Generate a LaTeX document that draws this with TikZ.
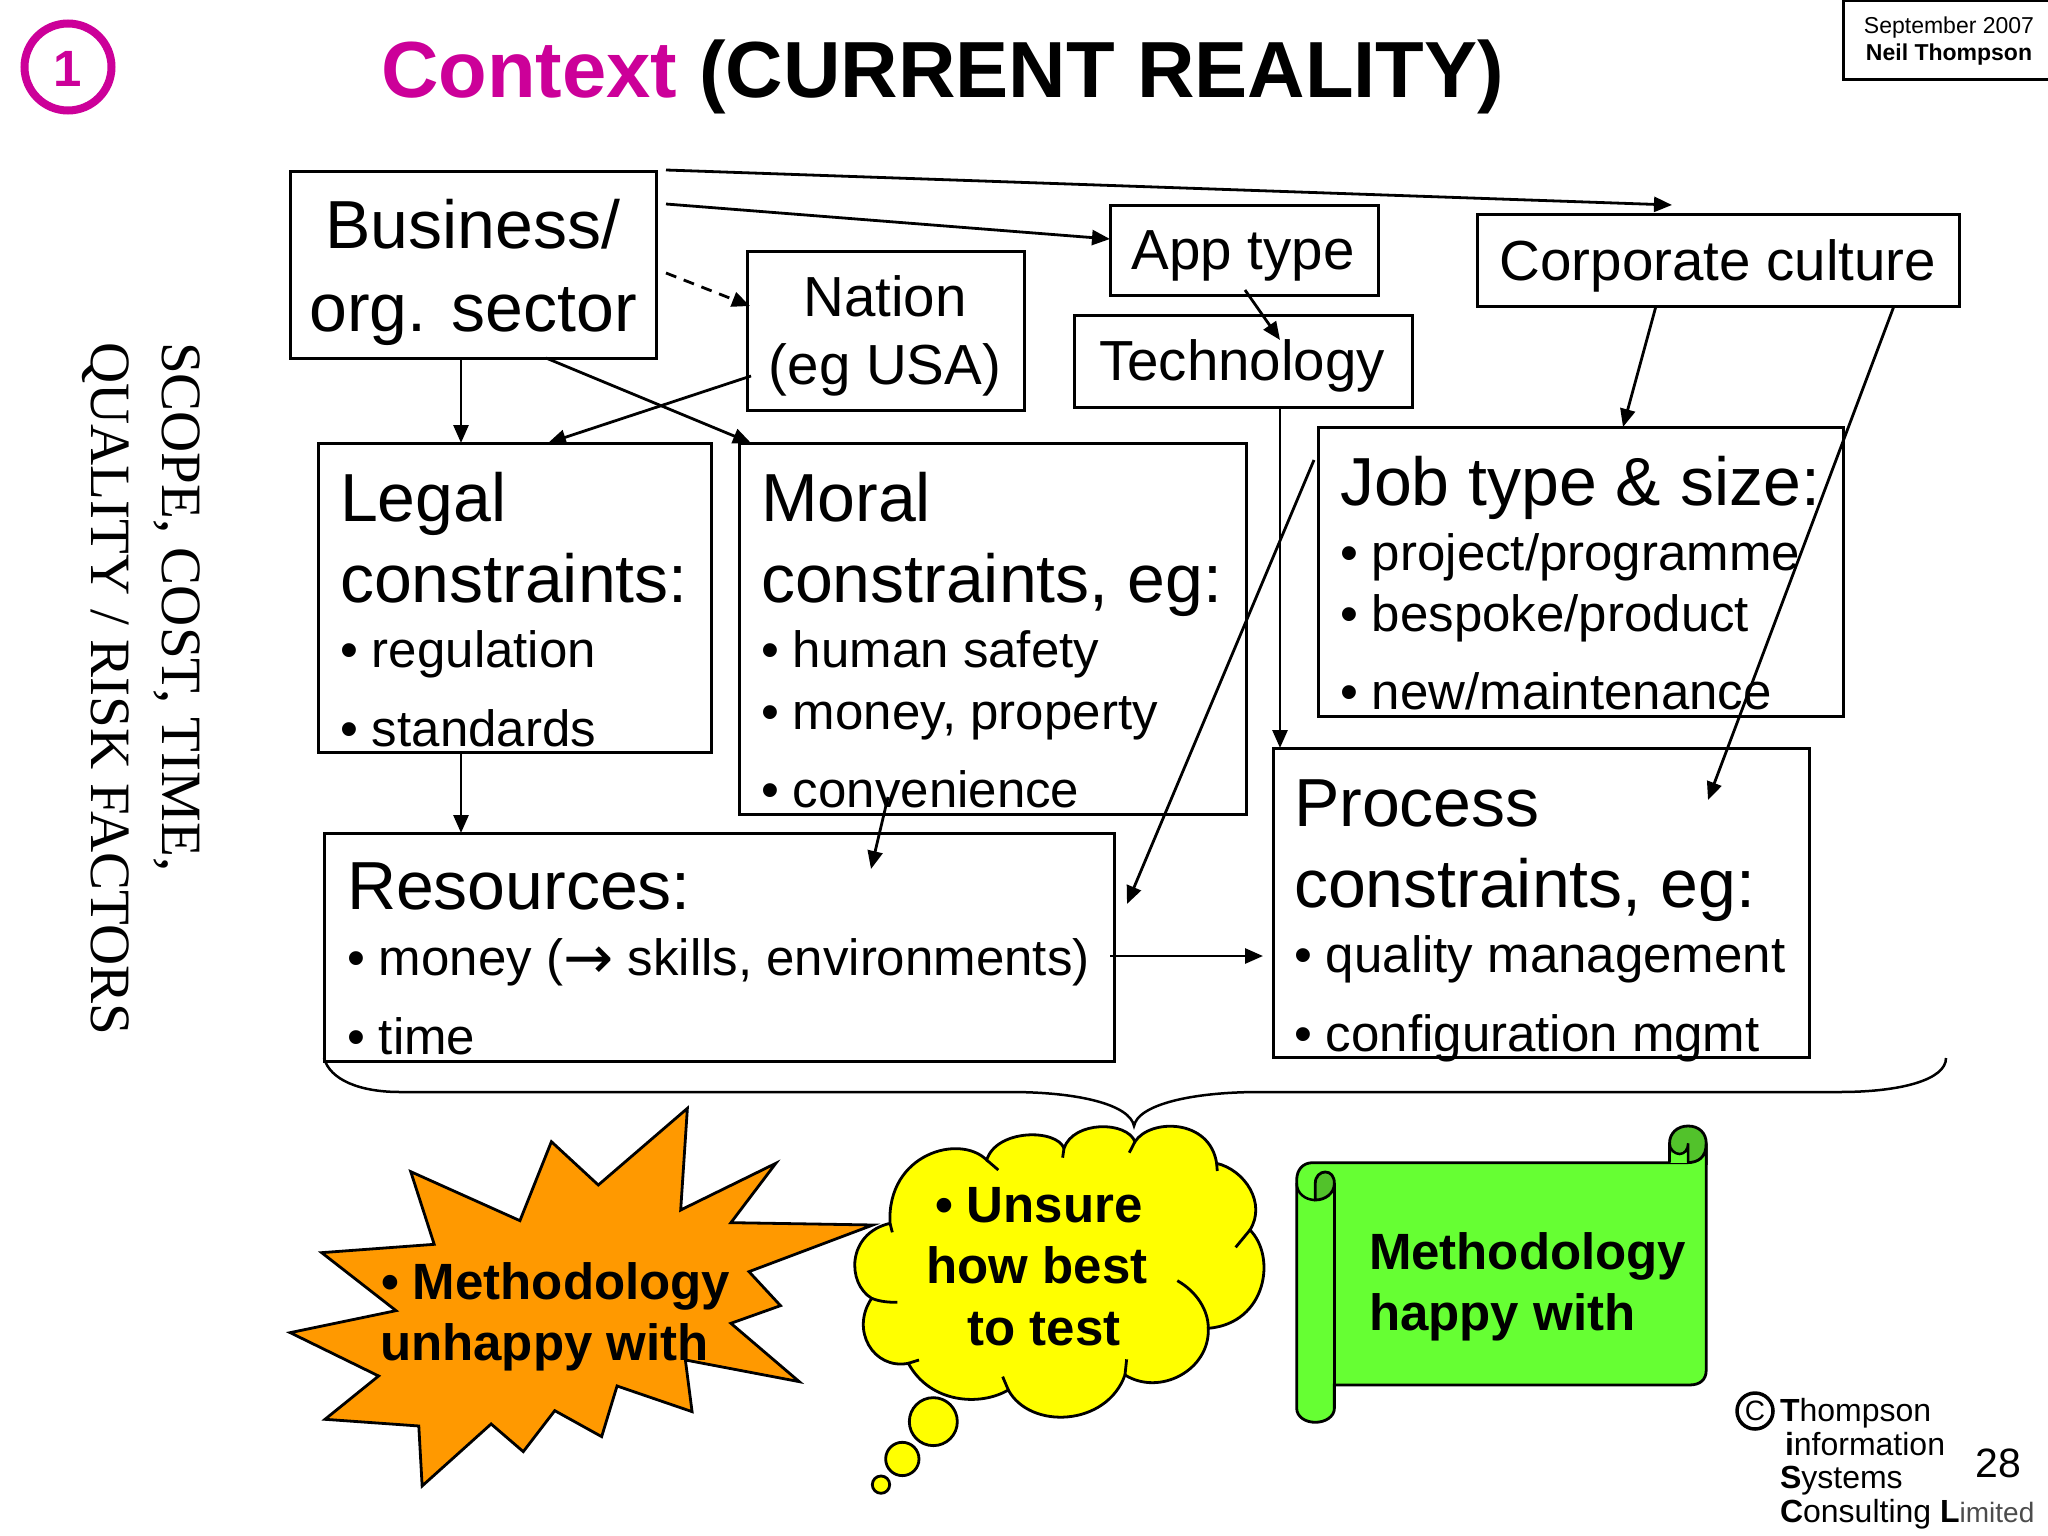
\documentclass[tikz,border=0pt]{standalone}
\usepackage{fontspec}
\setmainfont{Liberation Sans}
\newfontfamily\serifface{Liberation Serif}
\newfontfamily\arrowface{DejaVu Sans}
\usetikzlibrary{arrows.meta}
\newcommand{\fsz}[1]{\fontsize{#1}{#1}\selectfont}
\definecolor{magentaC}{HTML}{CC0099}
\definecolor{orangeC}{HTML}{FF9900}
\definecolor{yellowC}{HTML}{FFFF00}
\definecolor{greenC}{HTML}{66FF33}
\definecolor{greenD}{HTML}{52C22B}
\tikzset{
  box/.style={draw=black,line width=3pt,inner sep=0pt,outer sep=0pt},
  txt/.style={inner sep=0pt,outer sep=0pt,anchor=base west,align=left},
  ctr/.style={inner sep=0pt,outer sep=0pt,anchor=base},
  big/.style={font=\fsz{68}},
  mid/.style={font=\fsz{56.5}},
  small/.style={font=\fsz{51}},
  boldtxt/.style={font=\fsz{51}\bfseries},
  logo/.style={font=\fsz{32}},
  arr/.style={line width=2.8pt,-{Triangle[length=18pt,width=15pt]}},
  shapeline/.style={draw=black,line width=2.8pt,line join=miter},
}
\begin{document}
\begin{tikzpicture}[x=1pt,y=-1pt]
\useasboundingbox (0,0) rectangle (2048,1536);
\fill[white] (0,0) rectangle (2048,1536);

% header
\node[draw=magentaC,line width=8pt,circle,minimum size=87pt,inner sep=0pt] (badge) at (68,67) {};
\node[ctr,text=magentaC,font=\fsz{51}\bfseries] (one) at (68,87) {1};
\node[txt,font=\fsz{79.6}\bfseries] (title) at (381,98) {\textcolor{magentaC}{Context} (CURRENT REALITY)};
\node[box,minimum width=206pt,minimum height=79pt] (datebox) at (1946,40.5) {};
\node[ctr,font=\fsz{23}] (date) at (1949,34) {September 2007};
\node[ctr,font=\fsz{23}\bfseries] (author) at (1949,61) {Neil Thompson};

% side text
\node[txt,rotate=-90,font=\fsz{57}\serifface] (side1) at (162,342) {SCOPE, COST, TIME,};
\node[txt,rotate=-90,font=\fsz{57}\serifface] (side2) at (91,342) {QUALITY / RISK FACTORS};

% boxes
\node[box,minimum width=366pt,minimum height=187pt] (biz) at (473,264.5) {};
\node[box,minimum width=268pt,minimum height=90pt] (app) at (1244,250) {};
\node[box,minimum width=277pt,minimum height=159pt] (nation) at (885.5,330.5) {};
\node[box,minimum width=338pt,minimum height=92pt] (tech) at (1243,361) {};
\node[box,minimum width=482pt,minimum height=92pt] (corp) at (1718,260) {};
\node[box,minimum width=393pt,minimum height=309pt] (legal) at (515,597.5) {};
\node[box,minimum width=507pt,minimum height=371pt] (moral) at (992.5,628.5) {};
\node[box,minimum width=525pt,minimum height=289pt] (job) at (1580.5,571.5) {};
\node[box,minimum width=536pt,minimum height=309pt] (process) at (1541,902.5) {};
\node[box,minimum width=790pt,minimum height=228pt] (res) at (719,947) {};

% box texts
\node[ctr,big] (t1) at (473,248) {Business/};
\node[ctr,big] (t2) at (473,331) {org. sector};
\node[ctr,mid] (t3) at (885,316) {Nation};
\node[ctr,mid] (t4) at (885,384) {(eg USA)};
\node[ctr,mid] (t5) at (1243,269) {App type};
\node[ctr,mid] (t6) at (1242,380) {Technology};
\node[ctr,mid] (t7) at (1718,280) {Corporate culture};

\node[txt,big] (l1) at (340,521) {Legal};
\node[txt,big] (l2) at (340,602) {constraints:};
\node[txt,small] (l3) at (340,667) {• regulation};
\node[txt,small] (l4) at (340,746) {• standards};

\node[txt,big] (m1) at (761,521) {Moral};
\node[txt,big] (m2) at (761,602) {constraints, eg:};
\node[txt,small] (m3) at (761,667) {• human safety};
\node[txt,small] (m4) at (761,729) {• money, property};
\node[txt,small] (m5) at (761,807) {• convenience};

\node[txt,big] (j1) at (1340,505) {Job type \& size:};
\node[txt,small] (j2) at (1340,570) {• project/programme};
\node[txt,small] (j3) at (1340,631) {• bespoke/product};
\node[txt,small] (j4) at (1340,709) {• new/maintenance};

\node[txt,big] (p1) at (1294,826) {Process};
\node[txt,big] (p2) at (1294,907) {constraints, eg:};
\node[txt,small] (p3) at (1294,972) {• quality management};
\node[txt,small] (p4) at (1294,1051) {• configuration mgmt};

\node[txt,big] (r1) at (347,909) {Resources:};
\node[txt,small] (r2) at (347,975) {• money ({\arrowface\fsz{60}\raisebox{-3pt}{→}} skills, environments)};
\node[txt,small] (r3) at (347,1054) {• time};

% connector ends
\coordinate (bizA) at (666,170);
\coordinate (corpIn) at (1672,205);
\coordinate (bizB) at (666,204);
\coordinate (bizC) at (666,273);
\coordinate (natIn) at (750,306);
\coordinate (techIn) at (1280,340);
\coordinate (procIn) at (1708,800);
\coordinate (natOut) at (751,376);
\coordinate (resInA) at (871,869);
\coordinate (moralOut) at (888,797);
\coordinate (resInB) at (1127,904);
\coordinate (jobOut) at (1314,460);

\draw[arr] (bizA) -- (corpIn);
\draw[arr] (bizB) -- ([yshift=11pt]app.west);
\draw[arr,dash pattern=on 11pt off 8pt] (bizC) -- (natIn);
\draw[arr] ([xshift=1pt,yshift=5pt]app.south) -- (techIn);
\draw[arr] ([xshift=-62pt]corp.south) -- ([xshift=42.5pt]job.north);
\draw[arr] ([xshift=176pt]corp.south) -- (procIn);
\draw[arr] ([xshift=-12pt]biz.south) -- ([xshift=-54pt]legal.north);
\draw[arr] ([xshift=73pt]biz.south) -- ([xshift=-241.5pt]moral.north);
\draw[arr] (natOut) -- ([xshift=33pt]legal.north);
\draw[arr] ([xshift=-54pt]legal.south) -- ([xshift=-258pt]res.north);
\draw[arr] (moralOut) -- (resInA);
\draw[arr] (jobOut) -- (resInB);
\draw[arr] ([xshift=37pt]tech.south) -- ([xshift=-261pt]process.north);
\draw[arr] ([yshift=-9pt,xshift=-4pt]res.east) -- ([yshift=-53.5pt,xshift=-10pt]process.west);

% brace
\draw[line width=2.5pt] (324,1058) .. controls (330,1080) and (360,1092) .. (400,1092)
  -- (1010,1092) .. controls (1080,1092) and (1130,1105) .. (1134,1126)
  .. controls (1138,1105) and (1190,1092) .. (1260,1092)
  -- (1840,1092) .. controls (1900,1092) and (1946,1080) .. (1946,1058);

% starburst (coordinates read off a squashed crop)
\begin{scope}[shift={(250,1080)},x=0.6698pt,y=-0.3333pt]
\draw[shapeline,fill=orangeC] (653,85) -- (643,390) -- (785,250) -- (718,428) -- (930,435) -- (745,575)
 -- (792,677) -- (718,730) -- (820,905) -- (650,840) -- (660,995) -- (548,918) -- (525,1070)
 -- (455,992) -- (408,1115) -- (360,1032) -- (257,1218) -- (252,1038) -- (112,1018) -- (192,888)
 -- (60,758) -- (218,692) -- (107,518) -- (275,493) -- (240,275) -- (403,422) -- (450,185) -- (520,315) -- cycle;
\end{scope}

% cloud
\begin{scope}[shift={(840,1110)},x=0.3333pt,y=-0.3333pt]
\draw[shapeline,fill=yellowC] (440,150) .. controls (470,56) and (650,56) .. (672,115)
 .. controls (700,32) and (860,32) .. (885,95)
 .. controls (930,25) and (1110,25) .. (1130,160)
 .. controls (1215,180) and (1280,280) .. (1230,360)
 .. controls (1310,440) and (1280,640) .. (1105,655)
 .. controls (1110,780) and (960,860) .. (855,795)
 .. controls (800,950) and (570,960) .. (505,840)
 .. controls (420,890) and (270,880) .. (205,760)
 .. controls (100,780) and (30,660) .. (95,565)
 .. controls (20,520) and (20,370) .. (150,340)
 .. controls (140,130) and (360,70) .. (440,150) -- cycle;
\draw[line width=2.8pt] (440,150) -- (475,180) (672,115) -- (668,143) (885,95) -- (868,128)
 (1130,160) -- (1132,183) (1230,360) -- (1187,412)
 (1012,512) .. controls (1070,545) and (1105,600) .. (1105,655)
 (855,795) -- (860,748) (505,840) -- (488,800) (205,760) -- (237,750)
 (95,565) .. controls (120,575) and (145,577) .. (172,577) (150,340) -- (157,367);
\draw[shapeline,fill=yellowC] (280,935) circle [radius=72];
\draw[shapeline,fill=yellowC] (187,1047) circle [radius=50];
\draw[shapeline,fill=yellowC] (123,1124) circle [radius=26];
\end{scope}

% scroll
\begin{scope}[shift={(1260,1080)},x=0.5025pt,y=-0.3333pt]
\draw[shapeline,fill=greenD] (815,248) -- (815,190) .. controls (815,160) and (830,138) .. (852,138)
  .. controls (874,138) and (888,160) .. (888,190) -- (888,250) -- cycle;
\draw[shapeline,fill=greenC] (105,248) -- (850,248) .. controls (872,248) and (888,232) .. (888,190)
  -- (888,870) .. controls (888,900) and (875,915) .. (855,915) -- (148,915) -- (148,985)
  .. controls (148,1010) and (130,1027) .. (110,1027) .. controls (90,1027) and (73,1010) .. (73,985)
  -- (73,300) .. controls (73,270) and (85,248) .. (105,248) -- cycle;
\draw[shapeline,fill=greenD] (110,360) -- (110,310) .. controls (110,288) and (120,276) .. (130,276)
  .. controls (140,276) and (148,288) .. (148,310) .. controls (148,340) and (130,360) .. (110,360) -- cycle;
\draw[line width=2.5pt] (73,310) .. controls (73,340) and (90,360) .. (110,360);
\draw[line width=2.5pt] (148,310) -- (148,915);
\fill[greenC] (815,218) rectangle (850,248);
\draw[line width=2.5pt] (815,190) -- (815,248) (815,190) .. controls (815,208) and (825,222) .. (835,222) .. controls (845,222) and (852,208) .. (852,190) -- (852,248);
\end{scope}

% shape texts
\node[txt,boldtxt] (s1) at (381,1299) {• Methodology};
\node[txt,boldtxt] (s2) at (380,1360) {unhappy with};
\node[txt,boldtxt] (c1) at (935,1222) {• Unsure};
\node[ctr,boldtxt] (c2) at (1037,1283) {how best};
\node[ctr,boldtxt] (c3) at (1044,1345) {to test};
\node[txt,boldtxt] (g1) at (1369,1269) {Methodology};
\node[txt,boldtxt] (g2) at (1369,1330) {happy with};

% logo
\node[circle,draw=black,line width=3.5pt,minimum size=36pt,inner sep=0pt,font=\fsz{28}] (copy) at (1755,1411) {C};
\node[txt,logo] (tis1) at (1780,1421) {\textbf{T}hompson};
\node[txt,logo] (tis2) at (1785,1455) {\textbf{i}nformation};
\node[txt,logo] (tis3) at (1780,1488) {\textbf{S}ystems};
\node[txt,logo] (tis4) at (1780,1522) {\textbf{C}onsulting \textbf{L}{\fsz{28}\color{black!70}imited}};
\node[ctr,font=\fsz{41}] (page) at (1998,1477) {28};
\end{tikzpicture}
\end{document}
